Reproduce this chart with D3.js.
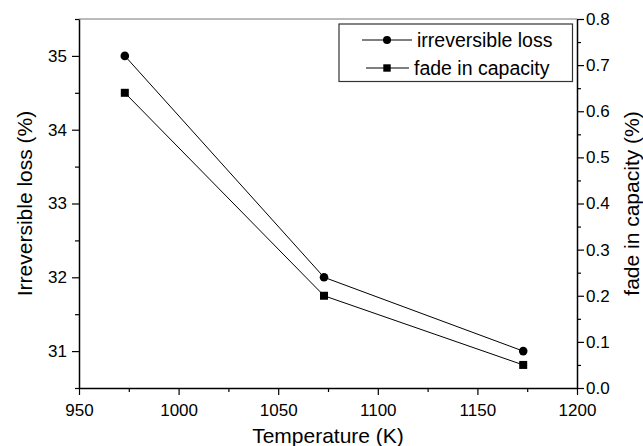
<!DOCTYPE html>
<html>
<head>
<meta charset="utf-8">
<script src="https://cdn.jsdelivr.net/npm/d3@7"></script>
<style>
  body { margin: 0; background: #fff; }
  svg { display: block; font-family: "Liberation Sans", Arial, sans-serif; }
  .domain { stroke: #000; stroke-width: 1.5px; }
  .tick line { stroke: #000; stroke-width: 1.2px; }
</style>
</head>
<body>
<svg id="chart" width="643" height="446"></svg>
<script>
// data
const temperatures = [973, 1073, 1173];
const irreversibleLoss = [35, 32, 31];      // left axis, %
const fadeInCapacity = [0.64, 0.2, 0.05];  // right axis, %

const xTicks = [950, 1000, 1050, 1100, 1150, 1200];
const leftTicks = [31, 32, 33, 34, 35];
const rightTicks = [0.0, 0.1, 0.2, 0.3, 0.4, 0.5, 0.6, 0.7, 0.8];

const svg = d3.select("#chart");
const margin = { top: 19, right: 66, bottom: 58, left: 79 };
const W = 643, H = 446;
const x0 = margin.left, x1 = W - margin.right;
const y0 = margin.top, y1 = H - margin.bottom;

const x = d3.scaleLinear().domain([950, 1200]).range([x0, x1]);
const yL = d3.scaleLinear().domain([30.5, 35.5]).range([y1, y0]);
const yR = d3.scaleLinear().domain([0, 0.8]).range([y1, y0]);

// top frame line
svg.append("line")
  .attr("x1", x0).attr("x2", x1).attr("y1", y0).attr("y2", y0)
  .attr("stroke", "#777").attr("stroke-width", 1.2);

// minor ticks first
svg.append("g").attr("transform", `translate(0,${y1})`)
  .call(d3.axisBottom(x).tickValues(d3.range(975, 1200, 50)).tickSize(4).tickFormat(""))
  .call(g => g.select(".domain").remove());
svg.append("g").attr("transform", `translate(${x0},0)`)
  .call(d3.axisLeft(yL).tickValues([30.5, 31.5, 32.5, 33.5, 34.5, 35.5]).tickSize(4).tickFormat(""))
  .call(g => g.select(".domain").remove());
svg.append("g").attr("transform", `translate(${x1},0)`)
  .call(d3.axisRight(yR).tickValues([0.05, 0.15, 0.25, 0.35, 0.45, 0.55, 0.65, 0.75]).tickSize(4).tickFormat(""))
  .call(g => g.select(".domain").remove());

// major axes
function styleAxis(g) {
  g.attr("font-family", null).attr("font-size", 17);
  g.selectAll("text").attr("fill", "#000");
}

svg.append("g").attr("transform", `translate(0,${y1})`)
  .call(d3.axisBottom(x).tickValues(xTicks).tickSize(7).tickSizeOuter(0).tickPadding(9)
    .tickFormat(d3.format("d")))
  .call(styleAxis);

svg.append("g").attr("transform", `translate(${x0},0)`)
  .call(d3.axisLeft(yL).tickValues(leftTicks).tickSize(7).tickSizeOuter(0).tickPadding(5)
    .tickFormat(d3.format("d")))
  .call(styleAxis);

svg.append("g").attr("transform", `translate(${x1},0)`)
  .call(d3.axisRight(yR).tickValues(rightTicks).tickSize(7).tickSizeOuter(0).tickPadding(2)
    .tickFormat(d3.format(".1f")))
  .call(styleAxis);

// axis titles
svg.append("text")
  .attr("x", (x0 + x1) / 2).attr("y", 443)
  .attr("text-anchor", "middle").attr("font-size", 21)
  .text("Temperature (K)");

svg.append("text")
  .attr("transform", `translate(32,${(y0 + y1) / 2}) rotate(-90)`)
  .attr("text-anchor", "middle").attr("font-size", 21)
  .text("Irreversible loss (%)");

svg.append("text")
  .attr("transform", `translate(639,${(y0 + y1) / 2}) rotate(-90)`)
  .attr("text-anchor", "middle").attr("font-size", 21)
  .text("fade in capacity (%)");

// series
const lossPts = temperatures.map((t, i) => [x(t), yL(irreversibleLoss[i])]);
const fadePts = temperatures.map((t, i) => [x(t), yR(fadeInCapacity[i])]);
const line = d3.line();

svg.append("path").attr("d", line(lossPts))
  .attr("fill", "none").attr("stroke", "#000").attr("stroke-width", 1);
svg.append("path").attr("d", line(fadePts))
  .attr("fill", "none").attr("stroke", "#000").attr("stroke-width", 1);

svg.selectAll(".dot").data(lossPts).join("circle")
  .attr("class", "dot")
  .attr("cx", d => d[0]).attr("cy", d => d[1]).attr("r", 4.3)
  .attr("fill", "#000");

svg.selectAll(".sq").data(fadePts).join("rect")
  .attr("class", "sq")
  .attr("x", d => d[0] - 4).attr("y", d => d[1] - 4)
  .attr("width", 8).attr("height", 8)
  .attr("fill", "#000");

// legend
const legend = svg.append("g");
legend.append("rect")
  .attr("x", 339).attr("y", 24).attr("width", 233.5).attr("height", 57.5)
  .attr("fill", "#fff").attr("stroke", "#333").attr("stroke-width", 1.2);

const items = [
  { label: "irreversible loss", shape: "circle", y: 40, lx1: 362, lx2: 412, mx: 387, tx: 417 },
  { label: "fade in capacity", shape: "square", y: 68, lx1: 366, lx2: 409, mx: 387, tx: 414 }
];
items.forEach(it => {
  legend.append("line")
    .attr("x1", it.lx1).attr("x2", it.lx2).attr("y1", it.y).attr("y2", it.y)
    .attr("stroke", "#000").attr("stroke-width", 1);
  if (it.shape === "circle") {
    legend.append("circle").attr("cx", it.mx).attr("cy", it.y).attr("r", 4).attr("fill", "#000");
  } else {
    legend.append("rect").attr("x", it.mx - 3.7).attr("y", it.y - 3.7)
      .attr("width", 7.4).attr("height", 7.4).attr("fill", "#000");
  }
  legend.append("text")
    .attr("x", it.tx).attr("y", it.y).attr("dy", "0.35em")
    .attr("font-size", 19.5)
    .text(it.label);
});
</script>
</body>
</html>
